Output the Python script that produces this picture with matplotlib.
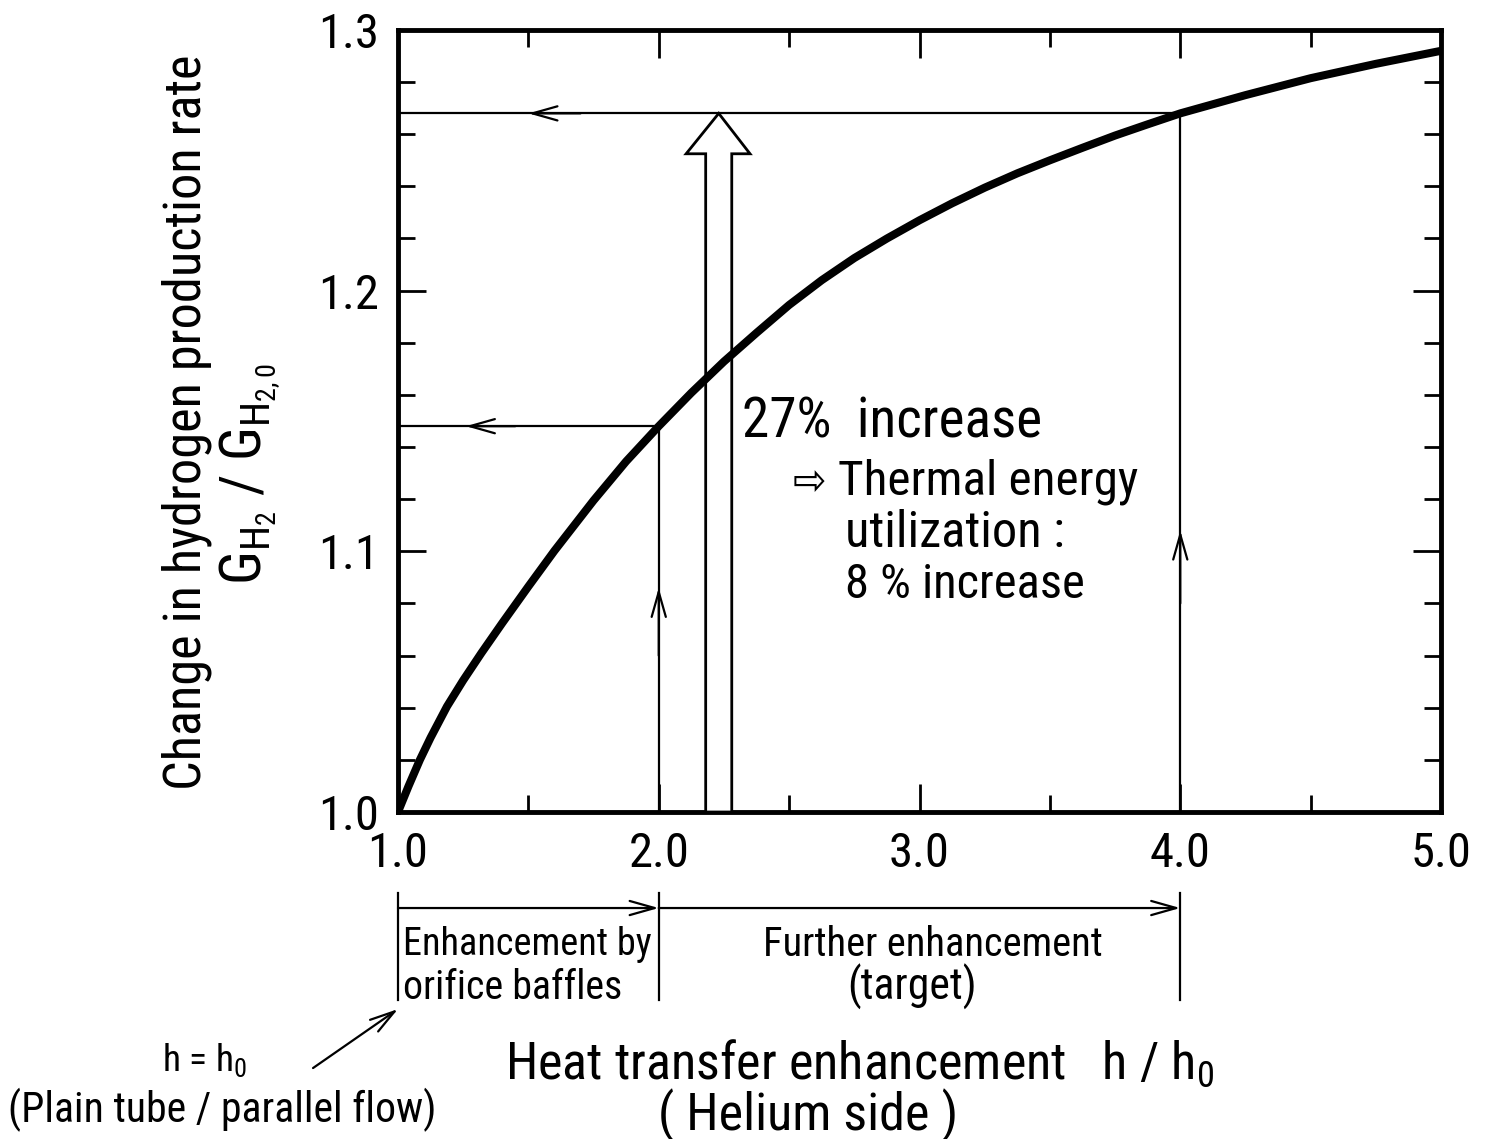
import matplotlib
matplotlib.use("Agg")
import matplotlib.pyplot as plt
import matplotlib.transforms as mtransforms
from matplotlib import font_manager
from matplotlib.patches import Polygon
from matplotlib.ticker import MultipleLocator, FormatStrFormatter

# curve
h_ratio = [1.0, 1.04, 1.084, 1.125, 1.188, 1.25, 1.32, 1.4, 1.5, 1.6, 1.75, 1.875,
           2.0, 2.125, 2.25, 2.375, 2.5, 2.625, 2.75, 2.875, 3.0, 3.125, 3.25,
           3.375, 3.5, 3.625, 3.75, 3.875, 4.0, 4.25, 4.5, 4.75, 5.0]
g_ratio = [1.0, 1.0098, 1.02, 1.0285, 1.0405, 1.0505, 1.061, 1.0725, 1.0865, 1.1002,
           1.1195, 1.1345, 1.148, 1.1608, 1.1728, 1.1838, 1.1945, 1.204, 1.2125,
           1.22, 1.227, 1.2335, 1.2395, 1.245, 1.25, 1.2548, 1.2595, 1.2638, 1.268,
           1.275, 1.2815, 1.287, 1.292]

# operating points
baffle_h, baffle_g = 2.0, 1.148
target_h, target_g = 4.0, 1.268

# big hollow arrow outline (x, y)
big_arrow_x = [2.18, 2.18, 2.105, 2.23, 2.35, 2.28, 2.28]
big_arrow_y = [1.0, 1.2525, 1.2525, 1.268, 1.2525, 1.2525, 1.0]

xticks = [1.0, 2.0, 3.0, 4.0, 5.0]
yticks = [1.0, 1.1, 1.2, 1.3]

names = {f.name for f in font_manager.fontManager.ttflist}
cands = [n for n in ["Roboto Condensed", "Liberation Sans Narrow", "Open Sans Condensed",
                     "DejaVu Sans Condensed", "Noto Sans Condensed"] if n in names]
plt.rcParams["font.family"] = cands + ["Liberation Sans", "DejaVu Sans"]
plt.rcParams["font.stretch"] = "condensed"
base = (cands + ["Liberation Sans"])[0]
plt.rcParams["mathtext.fontset"] = "custom"
plt.rcParams["mathtext.rm"] = base
plt.rcParams["mathtext.it"] = base

fig = plt.figure(figsize=(14.85, 11.39), dpi=100)
ax = fig.add_axes([0.268, 0.2871, 0.7024, 0.6866])

ax.plot(h_ratio, g_ratio, color="black", lw=5.8, solid_capstyle="butt",
        solid_joinstyle="round", zorder=5)

# big hollow arrow
ax.add_patch(Polygon(list(zip(big_arrow_x, big_arrow_y)), closed=True,
                     facecolor="white", edgecolor="black", lw=2, zorder=4))

thin = dict(arrowstyle="->,head_length=0.6,head_width=0.17", lw=1.6,
            color="black", mutation_scale=30, shrinkA=0, shrinkB=0)

# horizontal read-offs
ax.plot([1.0, target_h], [target_g, target_g], color="black", lw=1.6)
ax.annotate("", xy=(1.5, target_g), xytext=(1.7, target_g), arrowprops=thin)
ax.plot([1.0, baffle_h], [baffle_g, baffle_g], color="black", lw=1.6)
ax.annotate("", xy=(1.26, baffle_g), xytext=(1.45, baffle_g), arrowprops=thin)

# vertical lines
ax.plot([baffle_h, baffle_h], [1.0, baffle_g], color="black", lw=1.6)
ax.annotate("", xy=(baffle_h, 1.086), xytext=(baffle_h, 1.06), arrowprops=thin)
ax.plot([target_h, target_h], [1.0, target_g], color="black", lw=1.6)
ax.annotate("", xy=(target_h, 1.108), xytext=(target_h, 1.08), arrowprops=thin)

fits = []  # (text, target length in px, rotated)
fits.append((ax.text(2.318, 1.1495, "27%  increase", fontsize=35, ha="left", va="center"), 300, False))
ax.text(2.515, 1.1265, "\u21e8", fontsize=32, ha="left", va="center",
        family=["DejaVu Sans"])
fits.append((ax.text(2.686, 1.1265, "Thermal energy", fontsize=35, ha="left", va="center"), 300, False))
fits.append((ax.text(2.713, 1.1072, "utilization :", fontsize=35, ha="left", va="center"), 220, False))
fits.append((ax.text(2.713, 1.0872, "8 % increase", fontsize=35, ha="left", va="center"), 240, False))

ax.set_xlim(1.0, 5.0)
ax.set_ylim(1.0, 1.3)
ax.set_xticks(xticks)
ax.set_yticks(yticks)
ax.xaxis.set_minor_locator(MultipleLocator(0.5))
ax.yaxis.set_minor_locator(MultipleLocator(0.02))
ax.xaxis.set_major_formatter(FormatStrFormatter("%.1f"))
ax.yaxis.set_major_formatter(FormatStrFormatter("%.1f"))
ax.tick_params(which="both", direction="in", top=True, right=True, width=2)
ax.tick_params(which="major", length=20, labelsize=35, pad=14)
ax.tick_params(which="minor", length=12)
for s in ax.spines.values():
    s.set_linewidth(3.5)

# bracket below the axis
trans = mtransforms.blended_transform_factory(ax.transData, ax.transAxes)
for xv in [1.0, 2.0, 4.0]:
    ax.plot([xv, xv], [-0.1036, -0.2404], color="black", lw=1.6,
            transform=trans, clip_on=False)
ax.annotate("", xy=(2.0, -0.1228), xytext=(1.0, -0.1228), xycoords=trans,
            textcoords=trans, arrowprops=thin, annotation_clip=False)
ax.annotate("", xy=(4.0, -0.1228), xytext=(2.0, -0.1228), xycoords=trans,
            textcoords=trans, arrowprops=thin, annotation_clip=False)
fits.append((ax.text(1.02, -0.170, "Enhancement by", transform=trans, fontsize=29,
                     ha="left", va="center"), 249, False))
fits.append((ax.text(1.02, -0.2238, "orifice baffles", transform=trans, fontsize=29,
                     ha="left", va="center"), 220, False))
fits.append((ax.text(3.05, -0.170, "Further enhancement", transform=trans, fontsize=29,
                     ha="center", va="center"), 340, False))
fits.append((ax.text(2.97, -0.2238, "(target)", transform=trans, fontsize=29,
                     ha="center", va="center"), 130, False))

ax.annotate("", xy=(1.0, -0.252), xycoords=trans,
            xytext=(0.2108, 0.0623), textcoords="figure fraction",
            arrowprops=thin, annotation_clip=False)
fits.append((fig.text(0.138, 0.0694, "h = h$_{\\mathrm{0}}$", fontsize=28,
                      ha="center", va="center"), 85, False))
fits.append((fig.text(0.1495, 0.0255, "(Plain tube / parallel flow)", fontsize=28,
                      ha="center", va="center"), 427, False))

# x label as one two-line text; trailing spaces push the second line left
fits.append((fig.text(0.579, 0.043,
                      "Heat transfer enhancement   h / h$_{\\mathrm{0}}$\n"
                      "( Helium side )" + "\u2007" * 4,
                      fontsize=35, ha="center", va="center", multialignment="center",
                      linespacing=0.95), 710, False))

fits.append((fig.text(0.126, 0.6295, "Change in hydrogen production rate", fontsize=38,
                      rotation=90, ha="center", va="center"), 735, True))
fits.append((fig.text(0.168, 0.584, "G$_{\\mathrm{H_2}}$ / G$_{\\mathrm{H_{2,0}}}$",
                      fontsize=36, rotation=90, ha="center", va="center"), 227, True))

# scale each text so its length matches the picture, whatever font is found
fig.canvas.draw()
r = fig.canvas.get_renderer()
for t, target, rot in fits:
    bb = t.get_window_extent(r)
    size = bb.height if rot else bb.width
    t.set_fontsize(min(t.get_fontsize() * target / size, t.get_fontsize() * 1.15))

fig.savefig("out.png", dpi=100)
